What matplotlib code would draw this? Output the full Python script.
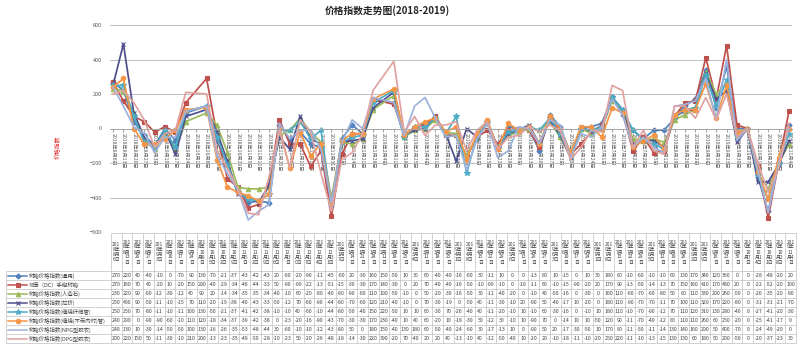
import matplotlib
matplotlib.use("Agg")
import matplotlib.pyplot as plt
import pandas as pd

plt.rcParams['font.family'] = ['Noto Sans CJK SC', 'DejaVu Sans']

dates = ["2018-08-06", "2018-08-13", "2018-08-20", "2018-08-27", "2018-09-03", "2018-09-10",
         "2018-09-17", "2018-09-24", "2018-10-08", "2018-10-15", "2018-10-22", "2018-10-29",
         "2018-11-05", "2018-11-12", "2018-11-19", "2018-11-26", "2018-12-03", "2018-12-10",
         "2018-12-17", "2018-12-24", "2018-12-31", "2019-01-07", "2019-01-14", "2019-01-21",
         "2019-01-28", "2019-02-11", "2019-02-18", "2019-02-25", "2019-03-04", "2019-03-11",
         "2019-03-18", "2019-03-25", "2019-04-01", "2019-04-08", "2019-04-15", "2019-04-22",
         "2019-04-29", "2019-05-06", "2019-05-13", "2019-05-20", "2019-05-27", "2019-06-03",
         "2019-06-10", "2019-06-17", "2019-06-24", "2019-07-01", "2019-07-08", "2019-07-15",
         "2019-07-22", "2019-07-29", "2019-08-05", "2019-08-12", "2019-08-19", "2019-08-26",
         "2019-09-02", "2019-09-09", "2019-09-16", "2019-09-23", "2019-09-30", "2019-10-07",
         "2019-10-14", "2019-10-21", "2019-10-28", "2019-11-04"]

names = ["树脂价格指数(通用)", "邻苯（DC）手糊树脂", "树脂价格指数(人造石)", "树脂价格指数(拉挤)",
         "树脂价格指数(缠绕纤维管)", "树脂价格指数(缠绕(不带内衬)管)", "树脂价格指数(NPG型胶衣)",
         "树脂价格指数(DPG型胶衣)"]

tongyong = [270, 220, 40, -40, -100, 0, -70, 90, 130, -70, -210, -370,
            -430, -420, -430, 20, -60, -20, -90, -110, -450, -60, 20, -30, 160,
            150, -50, 10, 30, 60, -40, -40, -160, -60, 30, -110, 10, 0, 0,
            -130, 80, 10, -150, 0, 10, 30, 180, 80, -10, -60, -10, -10, 60, 130, 170,
            340, 120, 360, 0, 0, -280, -480, -200, 20]
dc_shouhu = [270, 160, 70, 40, -20, 10, -20, 150, 290, -40, -290, -340,
             -460, -440, -330, 50, -90, -90, -220, -130, -510, -150, -30, -30, 170,
             140, -30, 0, 20, 70, -40, -40, -160, -50, -10, -90, -10, 0, -10,
             -110, 60, -10, -150, -90, -20, 20, 170, 90, -130, -50, -140, -130, 70, 150, 160,
             410, 170, 480, 20, 0, -220, -520, -200, 100]
renzaoshi = [230, 220, 90, -60, -120, -30, -120, 40, 90, 20, -140, -340,
             -350, -350, -340, -40, -10, 60, -20, -80, -400, -80, -90, -60, 110,
             190, -50, -10, 0, 50, -20, -30, -160, -50, 30, -110, -40, -20, 0,
             -10, 40, -50, -160, 0, -30, 0, 160, 110, -60, -70, -60, -80, 50, 80, 110,
             330, 200, 260, -50, 0, -260, -350, -200, -90]
laji = [250, 490, 90, -50, -110, -10, -150, 70, 110, -20, -190, -380,
        -400, -430, -330, -50, -120, 70, -60, -90, -440, -80, -70, -60, 120,
        210, -40, -10, 0, 70, -30, -190, 0, -50, 40, -110, -30, -10, 20,
        -90, 50, -40, -170, 10, -20, 0, 180, 110, -90, -70, -70, -110, 70, 100, 110,
        320, 170, 220, -80, 0, -310, -310, -210, -70]
chanrao = [250, 250, 70, -80, -110, -10, -110, 100, 130, -50, -210, -370,
           -410, -420, -380, -10, -10, 40, -60, -10, -440, -80, -50, -40, 150,
           220, -50, 10, 10, 60, -30, 70, -260, -40, 40, -110, -20, -10, 10,
           -10, 60, -30, -160, 0, -10, 10, 180, 110, -10, -70, -90, -120, 70, 110, 120,
           310, 130, 280, -40, 0, -270, -410, -200, -30]
chanrao_bd = [240, 290, 0, -90, -90, -60, -10, 110, 120, -180, -340, -370,
              -390, -420, -380, 0, -230, -20, -160, -90, -430, -70, -30, -30, 170,
              230, -40, 10, 40, 60, -20, 10, -180, -30, 50, -120, 30, -10, 10,
              -90, 70, 0, -140, 10, 10, -50, 120, 90, -110, -70, -40, -120, 80, 110, 110,
              260, 60, 250, -20, 0, -250, -410, -170, 0]
npg = [240, 130, 10, -30, -140, -50, -50, 100, 130, -160, -260, -350,
       -530, -480, -440, 30, -60, -10, -10, -120, -430, -80, 50, 0, 180,
       150, -40, 130, 180, 60, -50, -40, -240, -60, 30, -170, -130, 10, 0,
       -90, 50, 20, -170, -30, -50, 10, 170, 80, -110, -50, -110, -140, 130, 140, 160,
       290, 50, 400, -70, 0, -240, -490, -200, 0]
dpg = [200, 220, 150, 50, -110, -30, -10, 210, 200, -130, -230, -350,
       -490, -500, -280, -10, -230, 50, -20, -260, -480, -180, -140, -30, 220,
       390, -20, 70, -40, 20, 20, 40, -130, -10, 40, -120, -50, -40, 10,
       -20, 20, -10, -180, -110, -10, -20, 250, 220, -110, -10, -130, -150, 130, 130, 60,
       180, 50, 200, -50, 0, -200, -370, -230, 30]

series = [tongyong, dc_shouhu, renzaoshi, laji, chanrao, chanrao_bd, npg, dpg]
colors = ["#4F81BD", "#C0504D", "#9BBB59", "#4E4F8C", "#4BACC6", "#F79646", "#9DB3DE", "#E0A3A0"]
markers = ["D", "s", "^", "x", "*", "o", "", ""]
msizes = [2.6, 3.2, 3.2, 3.5, 4.2, 3.2, 0, 0]


def short(v):
    # the table cells only have room for three characters
    return str(v)[:3]


def wrap3(txt):
    lines, cur, w = [], "", 0
    for ch in txt:
        cw = 1 if ord(ch) < 128 else 2
        if w + cw > 3:
            lines.append(cur)
            cur, w = "", 0
        cur += ch
        w += cw
    lines.append(cur)
    return "\n".join(lines)


def cn_date(t):
    return f"{t.year}年{t.month}月{t.day}日"


d = pd.to_datetime(dates)
x = (d - d[0]).days / 7.0
weeks = pd.date_range(d[0], d[-1], freq="7D")

W, H = 800, 357
fig = plt.figure(figsize=(W / 100, H / 100), dpi=100)
ax = fig.add_axes([110 / W, 1 - 232 / H, 682 / W, 207 / H])

for vals, c, m, ms in zip(series, colors, markers, msizes):
    ax.plot(x, vals, color=c, lw=1.25, marker=m if m else None, ms=ms,
            mec=c, mfc=c, mew=0.8)

ax.set_xlim(-0.29, 65.29)
ax.set_ylim(-600, 600)
ax.set_yticks(range(-600, 601, 200))
ax.tick_params(axis="y", length=0, labelsize=4, labelcolor="#595959", pad=6)
ax.yaxis.grid(True, color="#BFBFBF", lw=0.7)
ax.set_axisbelow(True)
for s in ["top", "right", "left"]:
    ax.spines[s].set_visible(False)
ax.spines["bottom"].set_position(("data", 0))
ax.spines["bottom"].set_color("#A6A6A6")
ax.spines["bottom"].set_linewidth(0.7)
ax.set_xticks(range(len(weeks)))
ax.set_xticklabels([cn_date(t) for t in weeks], rotation=-90, fontsize=3.7,
                   color="#595959", ha="center", va="top")
ax.tick_params(axis="x", length=2, color="#A6A6A6", pad=1)

fig.text(387 / W, 1 - 11 / H, "价格指数走势图(2018-2019)", ha="center", va="center",
         fontsize=7, fontweight="bold", color="#262626")
fig.text(58 / W, 1 - 147 / H, "价格指数", rotation=90, ha="center", va="center",
         fontsize=4.2, color="#E02020")

# data table under the chart
tb = fig.add_axes([0, 0, 1, 1])
tb.set_xlim(0, W)
tb.set_ylim(H, 0)
tb.axis("off")
tb.patch.set_alpha(0)

x0, x1 = 111, 796
ncol = len(dates)
cw = (x1 - x0) / ncol
top, hdr, rh = 233, 271, 9
bot = hdr + rh * len(series)
gc = "#BFBFBF"

tb.hlines(top, x0, x1, color=gc, lw=0.5)
for k in range(len(series) + 1):
    tb.hlines(hdr + k * rh, 6, x1, color=gc, lw=0.5)
for i in range(ncol + 1):
    tb.vlines(x0 + i * cw, top, bot, color=gc, lw=0.5)
tb.vlines(6, hdr, bot, color=gc, lw=0.5)

for i, t in enumerate(d):
    tb.text(x0 + (i + 0.5) * cw, (top + hdr) / 2, wrap3(cn_date(t)), ha="center",
            va="center", fontsize=3.5, color="#404040", linespacing=1.0)

for k, (vals, name, c, m, ms) in enumerate(zip(series, names, colors, markers, msizes)):
    yc = hdr + (k + 0.5) * rh
    tb.plot([8, 27], [yc, yc], color=c, lw=1.1)
    if m:
        tb.plot([17.5], [yc], marker=m, ms=ms, color=c, mec=c, mew=0.8)
    tb.text(29, yc, name, ha="left", va="center", fontsize=3.9, color="#404040")
    for i, v in enumerate(vals):
        tb.text(x0 + (i + 0.5) * cw, yc, short(v), ha="center", va="center",
                fontsize=3.8, color="#404040")

fig.savefig("out.png", dpi=100)
plt.close()
